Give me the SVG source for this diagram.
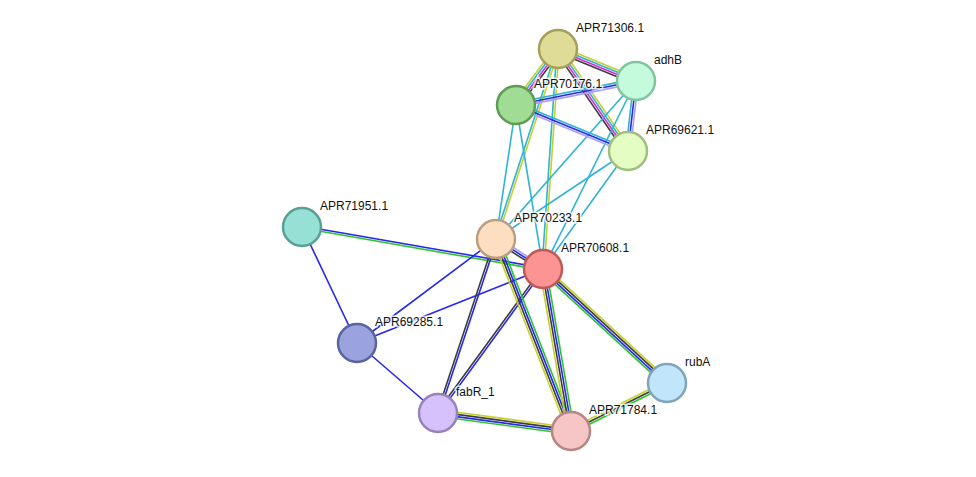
<svg xmlns="http://www.w3.org/2000/svg" width="976" height="477" viewBox="0 0 976 477">
<style>
line{stroke-width:1.6;fill:none}
.y{stroke:#c4d12a}.k{stroke:#3c3c3c}.c{stroke:#2fb4d4}.m{stroke:#d62ad4}.b{stroke:#2727f0}.g{stroke:#2ec42e}.p{stroke:#a7a0ff}
circle{stroke-width:2.5}
text{font-family:"Liberation Sans",Arial,sans-serif;font-size:12px;fill:#111;stroke:#fff;stroke-width:3;paint-order:stroke;stroke-opacity:0.8}
</style>
<rect width="976" height="477" fill="#fff"/>
<g id="edges">
<g transform="translate(558,49) rotate(22.3)"><line class="y" x2="84.3" y1="-3.3" y2="-3.3"/><line class="c" x2="84.3" y1="-1.1" y2="-1.1"/><line class="m" x2="84.3" y1="1.1" y2="1.1"/><line class="k" x2="84.3" y1="3.3" y2="3.3"/></g>
<g transform="translate(558,49) rotate(126.9)"><line class="k" x2="70" y1="-3.3" y2="-3.3"/><line class="m" x2="70" y1="-1.1" y2="-1.1"/><line class="c" x2="70" y1="1.1" y2="1.1"/><line class="y" x2="70" y1="3.3" y2="3.3"/></g>
<g transform="translate(558,49) rotate(55.5)"><line class="y" x2="123.7" y1="-3.3" y2="-3.3"/><line class="c" x2="123.7" y1="-1.1" y2="-1.1"/><line class="m" x2="123.7" y1="1.1" y2="1.1"/><line class="k" x2="123.7" y1="3.3" y2="3.3"/></g>
<g transform="translate(558,49) rotate(108.1)"><line class="y" x2="199.9" y1="-1.1" y2="-1.1"/><line class="c" x2="199.9" y1="1.1" y2="1.1"/></g>
<g transform="translate(558,49) rotate(93.9)"><line class="y" x2="220.5" y1="-1.1" y2="-1.1"/><line class="c" x2="220.5" y1="1.1" y2="1.1"/></g>
<g transform="translate(636,81) rotate(168.7)"><line class="p" x2="122.4" y1="-2.2" y2="-2.2"/><line class="b" x2="122.4" y1="0" y2="0"/><line class="c" x2="122.4" y1="2.2" y2="2.2"/></g>
<g transform="translate(636,81) rotate(96.5)"><line class="p" x2="70.5" y1="-2.2" y2="-2.2"/><line class="b" x2="70.5" y1="0" y2="0"/><line class="c" x2="70.5" y1="2.2" y2="2.2"/></g>
<g transform="translate(636,81) rotate(131.5)"><line class="c" x2="211.1"/></g>
<g transform="translate(636,81) rotate(116.3)"><line class="c" x2="209.7"/></g>
<g transform="translate(516,105) rotate(22.3)"><line class="c" x2="121.1" y1="-2.2" y2="-2.2"/><line class="b" x2="121.1" y1="0" y2="0"/><line class="p" x2="121.1" y1="2.2" y2="2.2"/></g>
<g transform="translate(516,105) rotate(98.5)"><line class="c" x2="135.5"/></g>
<g transform="translate(516,105) rotate(80.6)"><line class="c" x2="166.2"/></g>
<g transform="translate(628,151) rotate(146.3)"><line class="c" x2="158.6"/></g>
<g transform="translate(628,151) rotate(125.8)"><line class="c" x2="145.4"/></g>
<g transform="translate(302,227) rotate(9.9)"><line class="b" x2="244.6" y1="-1.1" y2="-1.1"/><line class="g" x2="244.6" y1="1.1" y2="1.1"/></g>
<g transform="translate(302,227) rotate(64.6)"><line class="b" x2="128.4"/></g>
<g transform="translate(496,239) rotate(32.6)"><line class="p" x2="55.8" y1="-2.2" y2="-2.2"/><line class="b" x2="55.8" y1="0" y2="0"/><line class="k" x2="55.8" y1="2.2" y2="2.2"/></g>
<g transform="translate(496,239) rotate(143.2)"><line class="b" x2="173.6"/></g>
<g transform="translate(543,269) rotate(158.3)"><line class="b" x2="200.2"/></g>
<g transform="translate(496,239) rotate(108.4)"><line class="b" x2="183.4" y1="-1.1" y2="-1.1"/><line class="k" x2="183.4" y1="1.1" y2="1.1"/></g>
<g transform="translate(543,269) rotate(126.1)"><line class="b" x2="178.2" y1="-1.1" y2="-1.1"/><line class="k" x2="178.2" y1="1.1" y2="1.1"/></g>
<g transform="translate(496,239) rotate(68.7)"><line class="g" x2="206.1" y1="-3.3" y2="-3.3"/><line class="b" x2="206.1" y1="-1.1" y2="-1.1"/><line class="k" x2="206.1" y1="1.1" y2="1.1"/><line class="y" x2="206.1" y1="3.3" y2="3.3"/></g>
<g transform="translate(543,269) rotate(80.2)"><line class="g" x2="164.4" y1="-3.3" y2="-3.3"/><line class="b" x2="164.4" y1="-1.1" y2="-1.1"/><line class="k" x2="164.4" y1="1.1" y2="1.1"/><line class="y" x2="164.4" y1="3.3" y2="3.3"/></g>
<g transform="translate(543,269) rotate(42.6)"><line class="y" x2="168.4" y1="-3.3" y2="-3.3"/><line class="k" x2="168.4" y1="-1.1" y2="-1.1"/><line class="b" x2="168.4" y1="1.1" y2="1.1"/><line class="g" x2="168.4" y1="3.3" y2="3.3"/></g>
<g transform="translate(438,413) rotate(7.7)"><line class="y" x2="134.2" y1="-3.3" y2="-3.3"/><line class="k" x2="134.2" y1="-1.1" y2="-1.1"/><line class="b" x2="134.2" y1="1.1" y2="1.1"/><line class="g" x2="134.2" y1="3.3" y2="3.3"/></g>
<g transform="translate(667,383) rotate(153.4)"><line class="y" x2="107.3" y1="2.2" y2="2.2"/><line class="k" x2="107.3" y1="0" y2="0"/><line class="g" x2="107.3" y1="-2.2" y2="-2.2"/></g>
<g transform="translate(357,343) rotate(40.8)"><line class="b" x2="107.1"/></g>
</g>
<g id="n71306"><circle cx="558" cy="49" r="19" fill="#dfdc97" stroke="#a4a05a"/><text x="576" y="32">APR71306.1</text></g>
<g id="nadhB"><circle cx="636" cy="81" r="19" fill="#c3fbdc" stroke="#82c49e"/><text x="654" y="64">adhB</text></g>
<g id="n70176"><circle cx="516" cy="105" r="19" fill="#a0dc94" stroke="#5e9c55"/><text x="534" y="88">APR70176.1</text></g>
<g id="n69621"><circle cx="628" cy="151" r="19" fill="#e3fdc3" stroke="#a2bd82"/><text x="646" y="134">APR69621.1</text></g>
<g id="n71951"><circle cx="302" cy="227" r="19" fill="#96e0d6" stroke="#5a9f96"/><text x="320" y="210">APR71951.1</text></g>
<g id="n70233"><circle cx="496" cy="239" r="19" fill="#fddec0" stroke="#bb9e80"/><text x="514" y="222">APR70233.1</text></g>
<g id="n70608"><circle cx="543" cy="269" r="19" fill="#fd9494" stroke="#c05858"/><text x="561" y="252">APR70608.1</text></g>
<g id="n69285"><circle cx="357" cy="343" r="19" fill="#9aa3de" stroke="#5b639f"/><text x="375" y="326">APR69285.1</text></g>
<g id="nfabR"><circle cx="438" cy="413" r="19" fill="#d6c1fd" stroke="#9683bb"/><text x="456" y="396">fabR_1</text></g>
<g id="nrubA"><circle cx="667" cy="383" r="19" fill="#c1e6fb" stroke="#7fa4bb"/><text x="685" y="366">rubA</text></g>
<g id="n71784"><circle cx="571" cy="431" r="19" fill="#f6c5c5" stroke="#b88585"/><text x="589" y="414">APR71784.1</text></g>
</svg>
